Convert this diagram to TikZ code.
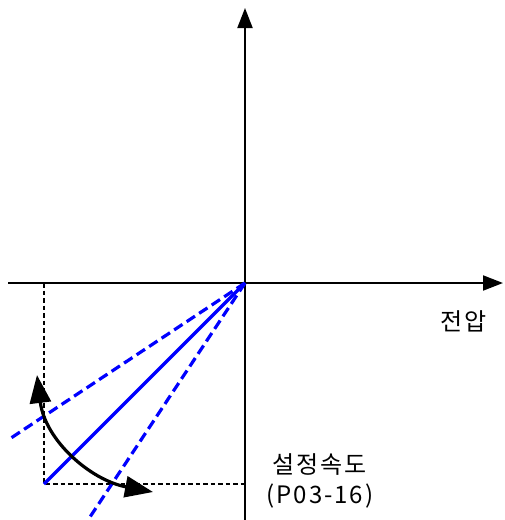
\documentclass[tikz,border=0pt]{standalone}
\usepackage{fontspec}
\newfontfamily\kr[LetterSpace=8]{Noto Sans CJK KR}
\usetikzlibrary{arrows.meta}
\tikzset{
  axis/.style={line width=2pt,-{Triangle[length=20pt,width=15pt]}},
  guide/.style={line width=1.5pt,dash pattern=on 4.5pt off 3pt},
  bluesolid/.style={blue,line width=3.2pt},
  bluedash/.style={blue,line width=3.2pt,dash pattern=on 10pt off 5pt},
  swing/.style={line width=3.2pt,{Triangle[length=28pt,width=21pt]}-{Triangle[length=28pt,width=21pt]}},
  lbl/.style={font=\kr\fontsize{24pt}{28pt}\selectfont,inner sep=0pt}
}
\begin{document}
\begin{tikzpicture}[x=1pt,y=-1pt]
\useasboundingbox (0,0) rectangle (504,520);
\coordinate (O) at (245,283);
\coordinate (xl) at (8,283);
\coordinate (xr) at (503,283);
\coordinate (yb) at (245,520);
\coordinate (yt) at (245,8);
\coordinate (c1) at (44,283);
\coordinate (c2) at (44,484);
\coordinate (c3) at (245,484);
\coordinate (u) at (8,440);
\coordinate (l) at (88,520);
\coordinate (a1) at (37,375);
\coordinate (a2) at (153,492);
\draw[guide] (c1) -- (c2) -- (c3);
\draw[axis] (xl) -- (xr);
\draw[axis] (yb) -- (yt);
\draw[bluesolid] (O) -- (c2);
\draw[bluedash] (O) -- (u);
\draw[bluedash] (O) -- (l);
\draw[swing] (a1) .. controls (45,440) and (90,480) .. (a2);
\node[lbl] (v) at (464,321) {전압};
\node[lbl] (s) at (320,465) {설정속도};
\node[lbl] (p) at (320,496) {(P03-16)};
\end{tikzpicture}
\end{document}
